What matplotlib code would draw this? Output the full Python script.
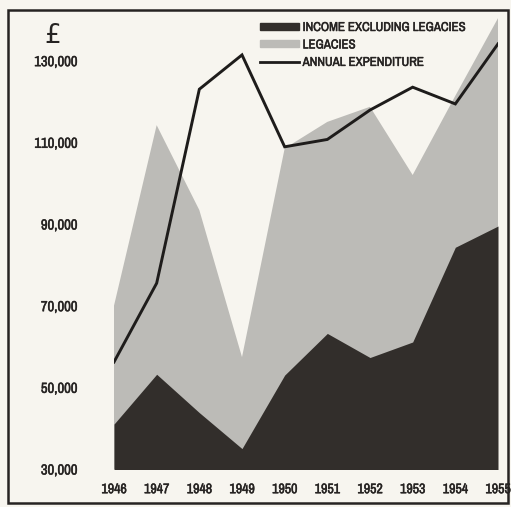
import matplotlib

matplotlib.use("Agg")
import matplotlib.pyplot as plt
import matplotlib.patheffects as pe
from matplotlib import font_manager
from matplotlib.patches import Rectangle
from matplotlib.lines import Line2D

YEARS = [1946, 1947, 1948, 1949, 1950, 1951, 1952, 1953, 1954, 1955]
# income excluding legacies (£)
INCOME = [41000, 53200, 43800, 35000, 53000, 63200, 57300, 61100, 84300, 89500]
# income including legacies, i.e. top of the grey band (£)
TOTAL = [70000, 114200, 93400, 57400, 108500, 115000, 118700, 102000, 121400, 140400]
EXPENDITURE = [56200, 75500, 123000, 131400, 108900, 110700, 117900, 123500, 119400, 134100]
Y_TICKS = [30000, 50000, 70000, 90000, 110000, 130000]
LABELS = ["INCOME EXCLUDING LEGACIES", "LEGACIES", "ANNUAL EXPENDITURE"]

names = sorted({f.name for f in font_manager.fontManager.ttflist})
narrow = [n for n in names if "Narrow" in n or "Condensed" in n]
FAMILY = narrow[:1] + ["DejaVu Sans"]

BG = "#f7f5ef"
GREY = "#bcbbb7"
DARK = "#322e2b"
INK = "#262322"

plt.rcParams["font.family"] = FAMILY
# hand lettering is a touch heavier than the bold face
heavy = [pe.withStroke(linewidth=0.35, foreground=INK)]

fig = plt.figure(figsize=(5.11, 5.07), dpi=100, facecolor=BG)
ax = fig.add_axes([114 / 511, 38 / 507, 384 / 511, 459 / 507])
ax.set_facecolor(BG)

ax.fill_between(YEARS, 0, TOTAL, color=GREY, lw=0)
ax.fill_between(YEARS, 0, INCOME, color=DARK, lw=0)
ax.plot(YEARS, EXPENDITURE, color="#1e1c1b", lw=2.1, solid_joinstyle="miter")

ax.set_xlim(1946, 1955)
ax.set_ylim(30000, 142400)
ax.set_xticks(YEARS)
ax.set_xticklabels([str(y) for y in YEARS])
ax.set_yticks(Y_TICKS)
ax.set_yticklabels([f"{v:,}" for v in Y_TICKS])
ax.tick_params(axis="y", length=0, pad=26, labelsize=10.5)
ax.tick_params(axis="x", length=0, pad=9.5, labelsize=10)
for lab in ax.get_xticklabels() + ax.get_yticklabels():
    lab.set_fontweight("bold")
    lab.set_color(INK)
    lab.set_path_effects(heavy)
for s in ax.spines.values():
    s.set_visible(False)

fig.text(53 / 511, 1 - 36 / 507, "£", ha="center", va="center", fontsize=19,
         color=INK, family="DejaVu Sans")

# frame around the whole drawing
fig.patches.append(Rectangle((8 / 511, 4 / 507), 500 / 511, 493 / 507,
                             transform=fig.transFigure, fill=False,
                             edgecolor=INK, lw=1.8))

handles = [
    Rectangle((0, 0), 1, 1, color=DARK),
    Rectangle((0, 0), 1, 1, color=GREY),
    Line2D([], [], color="#1e1c1b", lw=2.0),
]
leg = fig.legend(handles, LABELS, loc="upper left",
                 bbox_to_anchor=(260 / 511, 1 - 22 / 507), frameon=False,
                 handlelength=3.0, handleheight=0.45, handletextpad=0.3,
                 labelspacing=0.5, borderpad=0, borderaxespad=0,
                 prop={"size": 9.3, "weight": "bold"})
for t in leg.get_texts():
    t.set_color(INK)
    t.set_path_effects(heavy)

fig.savefig("out.png", dpi=100, facecolor=BG)
